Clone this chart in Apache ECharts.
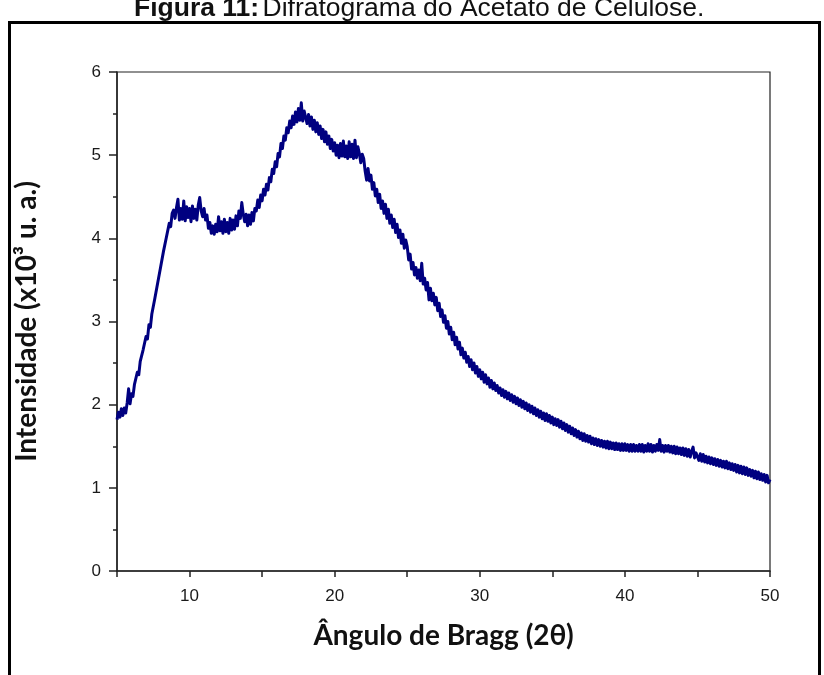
<!DOCTYPE html>
<html>
<head>
<meta charset="utf-8">
<script src="https://cdn.jsdelivr.net/npm/echarts@6/dist/echarts.min.js"></script>
<style>
  html, body { margin: 0; padding: 0; background: #fff; }
  #chart { width: 824px; height: 675px; }
</style>
</head>
<body>
<div id="chart"></div>
<script>
// Diffractogram sampling grid (2θ, degrees)
const angleStart = 5.0;
const angleStep = 0.1;

// Intensity (x10^3 a.u.), one row per degree of 2θ
const intensity = [
  1.82,1.91,1.85,1.95,1.87,1.96,1.90,2.02,2.19,2.01,
  2.13,2.10,2.24,2.22,2.39,2.36,2.52,2.50,2.66,2.66,
  2.82,2.79,2.96,2.93,3.09,3.07,3.27,3.27,3.46,3.44,
  3.65,3.64,3.84,3.82,4.01,3.99,4.18,4.14,4.30,4.34,
  4.24,4.37,4.47,4.22,4.36,4.23,4.45,4.21,4.38,4.25,
  4.36,4.20,4.39,4.24,4.35,4.22,4.40,4.49,4.33,4.26,
  4.36,4.22,4.28,4.12,4.19,4.06,4.15,4.05,4.17,4.08,
  4.26,4.09,4.20,4.06,4.23,4.08,4.19,4.06,4.24,4.10,
  4.22,4.11,4.27,4.15,4.33,4.24,4.43,4.29,4.20,4.29,
  4.15,4.28,4.17,4.31,4.21,4.36,4.33,4.46,4.37,4.52,
  4.45,4.59,4.52,4.65,4.58,4.73,4.68,4.83,4.78,4.92,
  4.86,5.02,4.98,5.14,5.08,5.23,5.18,5.33,5.27,5.41,
  5.33,5.47,5.37,5.52,5.40,5.56,5.42,5.63,5.41,5.53,
  5.52,5.38,5.49,5.35,5.46,5.31,5.42,5.28,5.39,5.25,
  5.35,5.20,5.31,5.16,5.28,5.13,5.23,5.08,5.19,5.05,
  5.15,5.00,5.12,4.97,5.14,4.99,5.17,4.98,5.11,4.96,
  5.16,4.98,5.13,4.96,5.18,4.97,5.10,5.02,4.91,5.01,
  4.96,4.81,4.70,4.84,4.69,4.76,4.59,4.67,4.51,4.59,
  4.43,4.53,4.36,4.45,4.30,4.41,4.24,4.35,4.18,4.28,
  4.13,4.23,4.07,4.17,4.01,4.10,3.94,4.05,3.88,3.98,
  3.90,3.74,3.81,3.63,3.71,3.56,3.65,3.52,3.62,3.49,
  3.70,3.45,3.52,3.38,3.47,3.26,3.40,3.25,3.34,3.20,
  3.29,3.13,3.22,3.06,3.14,2.99,3.07,2.92,3.00,2.85,
  2.93,2.78,2.87,2.72,2.81,2.67,2.75,2.60,2.68,2.56,
  2.63,2.51,2.58,2.46,2.54,2.42,2.50,2.38,2.46,2.34,
  2.42,2.31,2.39,2.27,2.36,2.25,2.32,2.21,2.29,2.19,
  2.26,2.17,2.23,2.14,2.20,2.11,2.18,2.09,2.16,2.07,
  2.14,2.05,2.12,2.03,2.10,2.01,2.08,1.99,2.06,1.97,
  2.04,1.95,2.02,1.93,2.00,1.91,1.98,1.89,1.96,1.87,
  1.94,1.85,1.92,1.83,1.90,1.81,1.89,1.80,1.87,1.78,
  1.85,1.76,1.83,1.75,1.82,1.73,1.80,1.71,1.78,1.69,
  1.76,1.67,1.74,1.65,1.72,1.63,1.70,1.61,1.68,1.59,
  1.66,1.57,1.65,1.56,1.63,1.55,1.62,1.53,1.60,1.52,
  1.59,1.51,1.58,1.50,1.57,1.49,1.56,1.48,1.56,1.47,
  1.55,1.47,1.54,1.46,1.54,1.46,1.53,1.45,1.53,1.45,
  1.53,1.45,1.52,1.44,1.52,1.44,1.52,1.44,1.51,1.44,
  1.52,1.44,1.52,1.43,1.51,1.44,1.53,1.44,1.52,1.43,
  1.51,1.44,1.52,1.45,1.58,1.44,1.51,1.43,1.51,1.44,
  1.51,1.43,1.50,1.42,1.50,1.41,1.49,1.41,1.48,1.40,
  1.48,1.39,1.47,1.38,1.46,1.37,1.44,1.49,1.36,1.42,
  1.42,1.33,1.41,1.32,1.40,1.31,1.38,1.30,1.37,1.29,
  1.36,1.28,1.35,1.27,1.34,1.26,1.33,1.25,1.32,1.24,
  1.32,1.23,1.30,1.22,1.29,1.21,1.28,1.19,1.27,1.18,
  1.26,1.17,1.25,1.16,1.24,1.15,1.22,1.14,1.21,1.12,
  1.20,1.11,1.19,1.10,1.17,1.09,1.16,1.07,1.15,1.06,
  1.10
];

// Axis ranges and labels
const xRange = [5, 50];
const yRange = [0, 6];
const xLabeled = [10, 20, 30, 40, 50];
const titleBold = 'Figura 11:';
const titleRest = 'Difratograma do Acetato de Celulose.';
const xName = 'Ângulo de Bragg (2θ)';
const yName = 'Intensidade (x10³ u. a.)';

const points = intensity.map((v, i) => [+(angleStart + i * angleStep).toFixed(1), v]);

const chart = echarts.init(document.getElementById('chart'), null, { renderer: 'canvas' });

const tickFont = { fontFamily: 'Liberation Sans, Arial, sans-serif', fontSize: 17, color: '#1a1a1a' };
const nameFont = { fontFamily: 'Lato, Open Sans, sans-serif', fontWeight: 'bold', fontSize: 28, color: '#111' };

chart.setOption({
  backgroundColor: '#ffffff',
  animation: false,
  grid: {
    left: 117, right: 54, top: 72, bottom: 104,
    show: true, borderColor: '#222', borderWidth: 1.2, backgroundColor: 'transparent'
  },
  xAxis: {
    type: 'value',
    min: xRange[0], max: xRange[1], interval: 5,
    name: xName, nameLocation: 'middle', nameGap: 51,
    nameTextStyle: nameFont,
    axisLine: { show: true, onZero: false, lineStyle: { color: '#222', width: 1.5 } },
    axisTick: { show: true, inside: false, length: 6, lineStyle: { color: '#222', width: 1.5 } },
    axisLabel: Object.assign({
      margin: 17,
      formatter: v => (xLabeled.indexOf(v) >= 0 ? String(v) : '')
    }, tickFont),
    splitLine: { show: false }
  },
  yAxis: {
    type: 'value',
    min: yRange[0], max: yRange[1], interval: 1,
    name: yName, nameLocation: 'middle', nameGap: 76,
    nameTextStyle: nameFont,
    axisLine: { show: true, lineStyle: { color: '#222', width: 1.5 } },
    axisTick: { show: true, inside: false, length: 8, lineStyle: { color: '#222', width: 1.5 } },
    minorTick: { show: true, splitNumber: 2, length: 4, lineStyle: { color: '#222', width: 1.5 } },
    axisLabel: Object.assign({ margin: 16 }, tickFont),
    splitLine: { show: false }
  },
  graphic: [
    {
      type: 'rect', silent: true, z: 0,
      shape: { x: 9.5, y: 22.5, width: 810, height: 700 },
      style: { fill: 'none', stroke: '#000', lineWidth: 3 }
    },
    {
      type: 'text', silent: true,
      left: 134, top: -5,
      style: {
        text: '{b|' + titleBold + '} {n|' + titleRest + '}',
        rich: {
          b: { fontFamily: 'Liberation Sans, Arial, sans-serif', fontWeight: 'bold', fontSize: 26.5, fill: '#111' },
          n: { fontFamily: 'Liberation Sans, Arial, sans-serif', fontSize: 26.5, fill: '#111' }
        }
      }
    }
  ],
  series: [{
    type: 'line',
    data: points,
    showSymbol: false,
    sampling: null,
    lineStyle: { color: '#000080', width: 3, join: 'round' },
    z: 3
  }]
});
</script>
</body>
</html>
